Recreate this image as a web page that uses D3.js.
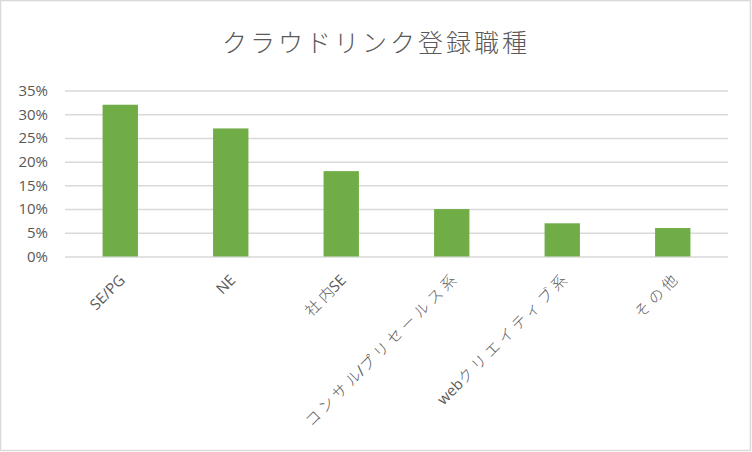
<!DOCTYPE html>
<html>
<head>
<meta charset="utf-8">
<script src="https://cdn.jsdelivr.net/npm/d3@7"></script>
<style>
  body { margin: 0; background: #fff; }
  text { font-family: "Noto Sans CJK JP", "Noto Sans", sans-serif; }
</style>
</head>
<body>
<svg width="752" height="452"></svg>
<script>
let categories = ['SE/PG', 'NE', '社内SE', 'コンサル/プリセールス系', 'webクリエイティブ系', 'その他'];
let shares = [0.32, 0.27, 0.18, 0.10, 0.07, 0.06];
let yTicks = [0, 0.05, 0.10, 0.15, 0.20, 0.25, 0.30, 0.35];
let title = 'クラウドリンク登録職種';

let width = 752;
let height = 452;
let plotLeft = 65, plotRight = 728, plotTop = 90.5, plotBottom = 256.5;

let svg = d3.select('svg');

svg.append('rect')
        .attr('x', 0.5)
        .attr('y', 0.5)
        .attr('width', 750)
        .attr('height', 450)
        .attr('fill', '#fff')
        .attr('stroke', '#d9d9d9')
        .attr('stroke-width', 1.5)

let xScale = d3.scaleBand()
        .domain(categories)
        .range([plotLeft, plotRight])
        .paddingInner(0.68)
        .paddingOuter(0.34)

let yScale = d3.scaleLinear()
        .domain([0, 0.35])
        .range([plotBottom, plotTop])

let yAxis = d3.axisLeft(yScale)
        .tickValues(yTicks)
        .tickFormat(d3.format('.0%'))
        .tickSize(-(plotRight - plotLeft))
        .tickPadding(17)

let gy = svg.append('g')
        .attr('transform', 'translate(' + plotLeft + ',0)')
        .call(yAxis)
gy.select('.domain').remove()
gy.selectAll('line').attr('stroke', '#d9d9d9').attr('stroke-width', 1.5)
gy.selectAll('text')
        .attr('fill', '#595959')
        .style('font-size', '15px')
        .style('font-family', '"Open Sans", "Noto Sans", sans-serif')

svg.selectAll('rect.bar')
        .data(categories)
        .enter()
        .append('rect')
        .attr('class', 'bar')
        .attr('x', d => xScale(d))
        .attr('width', xScale.bandwidth())
        .attr('y', (d, i) => yScale(shares[i]))
        .attr('height', (d, i) => plotBottom - yScale(shares[i]))
        .attr('fill', '#70ad47')

// latin parts in a sans face, japanese parts spaced out like the original
let cjk = /([\u3000-\u9fff\uff00-\uffef]+)/

function addPart(t, s, isCjk, spacing) {
    t.append('tspan')
            .style('font-family', isCjk ? '"Noto Sans CJK JP", sans-serif' : '"Open Sans", "Noto Sans", sans-serif')
            .style('font-weight', isCjk ? 300 : 400)
            .style('letter-spacing', spacing + 'px')
            .text(s)
}

svg.selectAll('text.cat')
        .data(categories)
        .enter()
        .append('text')
        .attr('class', 'cat')
        .attr('transform', d => 'translate(' + (xScale(d) + xScale.bandwidth() / 2 + 2) + ',' + (plotBottom + 21) + ') rotate(-45)')
        .attr('dy', '0.35em')
        .style('text-anchor', 'end')
        .style('font-size', '15px')
        .attr('fill', '#595959')
        .each(function (d) {
            let t = d3.select(this)
            d.split(cjk).filter(s => s.length).forEach(s => {
                if (cjk.test(s)) {
                    if (s.length > 1) addPart(t, s.slice(0, -1), true, 4)
                    addPart(t, s.slice(-1), true, 0)
                } else {
                    addPart(t, s, false, 0)
                }
            })
        })

svg.append('text')
        .attr('x', width / 2)
        .attr('y', 52)
        .style('text-anchor', 'middle')
        .style('font-size', '25px')
        .style('font-weight', 300)
        .style('letter-spacing', '3px')
        .attr('fill', '#595959')
        .text(title)
</script>
</body>
</html>
